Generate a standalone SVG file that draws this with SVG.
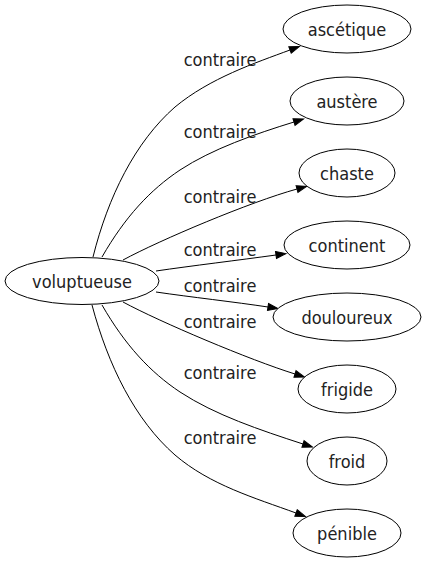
<svg xmlns="http://www.w3.org/2000/svg" width="426" height="563" viewBox="0 0 426 563">
<defs>
<marker id="arr" markerUnits="userSpaceOnUse" markerWidth="10" markerHeight="7" viewBox="0 -3.5 10 7" refX="0" refY="0" orient="auto" overflow="visible">
<path d="M0,-3.5 L10,0 L0,3.5 z" fill="#000" stroke="#000" stroke-width="1"/>
</marker>
</defs>
<style>
.node ellipse{fill:#fff;stroke:#000;stroke-width:1}
text{font-family:"DejaVu Sans Condensed","DejaVu Sans",sans-serif;font-stretch:condensed;font-size:18px;fill:#222;text-anchor:middle}
.edge path{fill:none;stroke:#000;stroke-width:1;marker-end:url(#arr)}
</style>
<rect width="426" height="563" fill="#fff"/>
<g id="edges">
<g class="edge"><path d="M93,257 C108,197 135,142 175,107 C210,78 255,63 290,50"/><text x="220" y="66">contraire</text></g>
<g class="edge"><path d="M102,257 C125,217 150,190 180,170 C212,149 255,134 294,122"/><text x="220" y="138">contraire</text></g>
<g class="edge"><path d="M123,260 C160,240 250,202 297,189"/><text x="220" y="203">contraire</text></g>
<g class="edge"><path d="M156,271 C190,266 240,260 276,255"/><text x="220" y="256">contraire</text></g>
<g class="edge"><path d="M156,292 C190,297 235,302 268,307"/><text x="220" y="292">contraire</text></g>
<g class="edge"><path d="M123,302 C160,322 250,360 295,374"/><text x="220" y="328">contraire</text></g>
<g class="edge"><path d="M102,305 C125,345 150,372 180,392 C215,415 260,430 303,444"/><text x="220" y="379">contraire</text></g>
<g class="edge"><path d="M92,305 C108,365 135,420 175,455 C210,485 255,498 296,513"/><text x="220" y="444">contraire</text></g>
</g>
<g id="node-voluptueuse" class="node"><ellipse cx="82" cy="281" rx="77" ry="23.5"/><text x="82" y="288">voluptueuse</text></g>
<g id="node-ascetique" class="node"><ellipse cx="347" cy="29" rx="64" ry="24"/><text x="347" y="36">ascétique</text></g>
<g id="node-austere" class="node"><ellipse cx="347" cy="101" rx="57" ry="24"/><text x="347" y="108">austère</text></g>
<g id="node-chaste" class="node"><ellipse cx="347" cy="173" rx="48" ry="24"/><text x="347" y="180">chaste</text></g>
<g id="node-continent" class="node"><ellipse cx="347" cy="245" rx="63" ry="24"/><text x="347" y="252">continent</text></g>
<g id="node-douloureux" class="node"><ellipse cx="347" cy="317" rx="74" ry="24"/><text x="347" y="324">douloureux</text></g>
<g id="node-frigide" class="node"><ellipse cx="347" cy="389" rx="49" ry="24"/><text x="347" y="396">frigide</text></g>
<g id="node-froid" class="node"><ellipse cx="347" cy="461" rx="40" ry="24"/><text x="347" y="468">froid</text></g>
<g id="node-penible" class="node"><ellipse cx="347" cy="533" rx="54" ry="24"/><text x="347" y="540">pénible</text></g>
</svg>
